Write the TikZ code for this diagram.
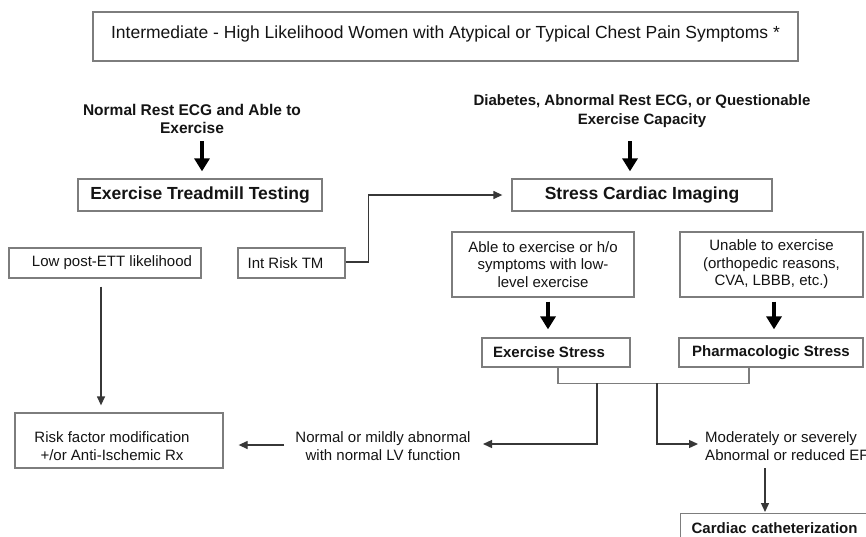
\documentclass[tikz,border=0pt]{standalone}
\usepackage{fontspec}
\setmainfont{Liberation Sans}
\usetikzlibrary{arrows.meta,calc}
\definecolor{boxgray}{RGB}{125,125,125}
\definecolor{linegray}{RGB}{55,55,55}
\definecolor{txt}{RGB}{20,20,20}
\begin{document}
\begin{tikzpicture}[x=1pt,y=-1pt,
  box/.style={draw=boxgray, line width=1.3pt, inner sep=0pt, align=center, text=txt},
  reg/.style={font=\fontsize{15}{17.5}\selectfont, text=txt},
  bld/.style={font=\bfseries\fontsize{15}{18}\selectfont, text=txt},
  big/.style={font=\bfseries\fontsize{17.5}{20}\selectfont, text=txt},
  conn/.style={draw=linegray, line width=1.3pt},
  thinarrow/.style={conn, -{Triangle[length=9pt,width=8pt]}},
  bigarrow/.style={draw=black, line width=4pt, -{Triangle[length=13pt,width=15pt]}}]
\fill[white] (0,0) rectangle (866,536);
\useasboundingbox (0,0) rectangle (866,536);

% title
\node[box, line width=2.2pt, minimum width=705pt, font=\fontsize{17.5}{20}\selectfont,
      text height=26pt, text depth=23pt] (title) at (445.5,36.5)
  {Intermediate - High Likelihood Women with Atypical or Typical Chest Pain Symptoms *};

% entry conditions
\node[bld, align=center, font=\bfseries\fontsize{15.5}{18}\selectfont] (normal) at (192,119)
  {Normal Rest ECG and Able to\\Exercise};
\node[bld, align=center, font=\bfseries\fontsize{15}{19}\selectfont] (diab) at (642,111.5)
  {Diabetes, Abnormal Rest ECG, or Questionable\\Exercise Capacity};

% main tests
\node[box, big, minimum width=244pt, minimum height=32pt] (ett) at (200,195) {Exercise Treadmill Testing};
\node[box, big, minimum width=260pt, minimum height=32pt] (sci) at (642,195) {Stress Cardiac Imaging};

\draw[bigarrow] ($(ett.north)+(2,-37)$) -- ($(ett.north)+(2,-7)$);
\draw[bigarrow] ($(sci.north)+(-12,-37)$) -- ($(sci.north)+(-12,-7)$);

% ETT outcomes
\node[box, reg, minimum width=192pt, minimum height=30pt] (low) at (105,263) {\hspace*{14pt}Low post-ETT likelihood};
\node[box, reg, minimum width=107pt, minimum height=30pt] (int) at (291.5,263) {Int Risk TM\hspace*{12pt}};

\draw[conn] ($(ett.south)+(-46,0)$) -- ($(ett.south)+(-46,0)$ |- low.north);
\draw[conn] ($(ett.south)+(68,0)$) -- ($(ett.south)+(68,0)$ |- int.north);
\draw[thinarrow] ($(int.east)+(0,-1)$) -- ++(23,0) |- ($(sci.west)+(-9,0)$);

% imaging branches
\node[box, reg, minimum width=182pt, minimum height=65pt] (able) at (543,264.5)
  {Able to exercise or h/o\\symptoms with low-\\level exercise};
\node[box, reg, minimum width=183pt, minimum height=65pt] (unable) at (771.5,264.5)
  {Unable to exercise\\(orthopedic reasons,\\CVA, LBBB, etc.)};

\node[box, bld, minimum width=148pt, minimum height=29pt] (exs) at (556,352.5) {Exercise Stress\hspace*{14pt}};
\node[box, bld, minimum width=184pt, minimum height=29pt] (pharm) at (771,352.5) {Pharmacologic Stress};

\draw[bigarrow] ($(able.south)+(5,4)$) -- ($(exs.north)+(-8,-8)$);
\draw[bigarrow] ($(unable.south)+(2.5,4)$) -- ($(pharm.north)+(3,-8)$);

% bracket and branches
\draw[conn, draw=boxgray] ($(exs.south)+(2,0)$) -- ++(0,16) -| ($(pharm.south)+(-22,0)$);
\coordinate (jl) at (597,383);
\coordinate (jr) at (657,383);

\node[reg, align=center] (nrm) at (383,446) {Normal or mildly abnormal\\with normal LV function};
\node[reg, align=left, anchor=west] (mod) at (701.7,446) {Moderately or severely\\Abnormal or reduced EF};

\coordinate (nrmin) at (483,444);
\coordinate (modin) at (698,444);
\draw[thinarrow] (jl) |- (nrmin);
\draw[thinarrow] (jr) |- (modin);

% outcomes
\node[box, minimum width=208pt, minimum height=55pt] (risk) at (119,440.5) {};
\node[reg, align=center] (risktxt) at (112,446) {Risk factor modification\\+/or Anti-Ischemic Rx};

\node[box, bld, anchor=north west, minimum width=200pt, inner xsep=11pt, inner ysep=0pt,
      text width=178pt, align=left, text height=19.5pt, text depth=20.5pt] (cath) at (680,513)
  {Cardiac catheterization};

\coordinate (ns) at (284,445);
\draw[thinarrow] (ns) -- ($(risk.east |- ns)+(15,0)$);
\draw[thinarrow] ($(low.south)+(-4,8)$) -- ($(low.south |- risk.north)+(-4,-7)$);
\coordinate (modbot) at (765,468);
\draw[thinarrow] (modbot) -- ($(modbot |- cath.north)+(0,-1)$);
\end{tikzpicture}
\end{document}
